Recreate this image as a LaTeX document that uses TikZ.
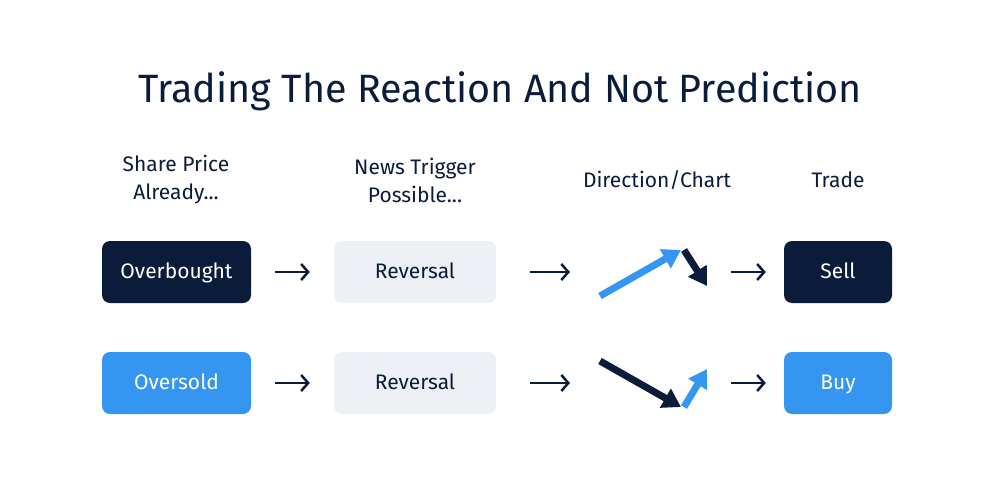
\documentclass[tikz,border=0pt]{standalone}
\usepackage{fontspec}
\setmainfont{Fira Sans}
\usetikzlibrary{positioning, arrows.meta}
\definecolor{tradenavy}{HTML}{0B1C3A}
\definecolor{tradeblue}{HTML}{3496F0}
\definecolor{tradegray}{HTML}{EDF1F5}

\begin{document}
\begin{tikzpicture}[
      x=1pt, y=-1pt,
      font=\fontsize{21}{28}\selectfont,
      text=tradenavy,
      box/.style={rectangle, rounded corners=8pt, minimum height=62pt, inner sep=0pt, text height=16pt, text depth=3pt},
      sellbox/.style={box, fill=tradenavy, text=white},
      buybox/.style={box, fill=tradeblue, text=white},
      newsbox/.style={box, fill=tradegray, text=tradenavy, minimum width=162pt},
      head/.style={align=center, text=tradenavy},
      flow/.style={-{Straight Barb[length=7pt, width=16pt, line width=2.5pt]}, line width=2.5pt, draw=tradenavy},
      move/.style={-{Triangle[length=18pt, width=21pt]}, line width=7pt}
  ]
  \useasboundingbox (0,0) rectangle (1000,487);

  % Title
  \node[text=tradenavy, font=\fontsize{39.5}{46}\selectfont] (title) at (500,91) {Trading The Reaction And Not Prediction};

  % Headers
  \node[head] (hshare) at (176,180) {Share Price\\Already...};
  \node[head] (hnews) at (415,180) {News Trigger\\Possible...};
  \node[head] (hdir) at (657,180) {Direction/Chart};
  \node[head] (htrade) at (838,180) {Trade};

  % Nodes
  \node[sellbox, minimum width=149pt] (over) at (176.5,272) {Overbought};
  \node[buybox, minimum width=149pt] (oversold) at (176.5,383) {Oversold};
  \node[newsbox] (rev1) at (415,272) {Reversal};
  \node[newsbox] (rev2) at (415,383) {Reversal};
  \node[sellbox, minimum width=108pt] (sell) at (838,272) {Sell};
  \node[buybox, minimum width=108pt] (buy) at (838,383) {Buy};

  % Chart
  \coordinate (up1) at (600,296);
  \coordinate (top1) at (681,250);
  \coordinate (dn1) at (707,286);
  \coordinate (dn2) at (600,361);
  \coordinate (bot2) at (681,407);
  \coordinate (up2) at (707,369);

  % Arrows
  \draw[flow] ([xshift=24pt]over.east) -- ([xshift=-24pt]rev1.west);
  \draw[flow] ([xshift=24pt]oversold.east) -- ([xshift=-24pt]rev2.west);
  \draw[flow] ([xshift=34pt]rev1.east) -- ([xshift=-30pt]up1 |- rev1.east);
  \draw[flow] ([xshift=34pt]rev2.east) -- ([xshift=-30pt]up1 |- rev2.east);
  \draw[flow] ([xshift=-53pt]sell.west) -- ([xshift=-18pt]sell.west);
  \draw[flow] ([xshift=-53pt]buy.west) -- ([xshift=-18pt]buy.west);

  \draw[move, draw=tradeblue, fill=tradeblue] (up1) -- (top1);
  \draw[move, draw=tradenavy, fill=tradenavy] ([xshift=3pt]top1) -- (dn1);
  \draw[move, draw=tradenavy, fill=tradenavy] (dn2) -- (bot2);
  \draw[move, draw=tradeblue, fill=tradeblue] ([xshift=3pt]bot2) -- (up2);

  \end{tikzpicture}
\end{document}
